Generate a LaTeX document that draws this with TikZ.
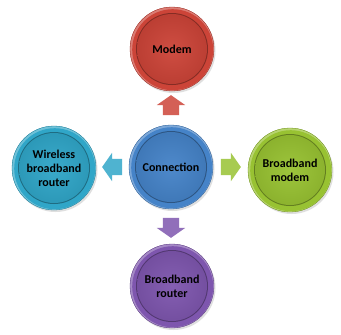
\documentclass[tikz,border=0pt]{standalone}
\usepackage{fontspec}
\setmainfont{Carlito}
\usetikzlibrary{shapes.arrows,shadows}
\definecolor{cred}{HTML}{CC4438}
\definecolor{cblue}{HTML}{4583C8}
\definecolor{caqua}{HTML}{30A6C8}
\definecolor{cgreen}{HTML}{98C232}
\definecolor{cpurple}{HTML}{7E56AE}
\tikzset{
  ball/.style={circle, minimum size=84pt, inner sep=0pt, draw=#1!75!black, line width=0.3pt,
    fill=#1, align=center, text=black,
    font=\fontsize{12}{14}\selectfont\bfseries,
    drop shadow={shadow xshift=1.5pt, shadow yshift=-2pt, opacity=0.25},
    path picture={
      \fill[#1!70!white] (path picture bounding box.center) circle (42pt);
      \fill[#1] ([xshift=0.7pt,yshift=-0.7pt]path picture bounding box.center) circle (40.5pt);
      \fill[#1!65!black] (path picture bounding box.center) circle (36pt);
      \shade[inner color=#1!95!white, outer color=#1!92!black] (path picture bounding box.center) circle (35pt);
    }},
  blockarrow/.style={single arrow, draw=none, fill=#1!85!white, minimum height=20pt,
    inner xsep=0pt, inner ysep=8pt, single arrow head extend=6pt, single arrow tip angle=110}
}
\begin{document}
\begin{tikzpicture}[x=1pt,y=-1pt]
\useasboundingbox[fill=white] (0,0) rectangle (341,335);
\node[ball=cblue] (c) at (171,167) {Connection};
\node[ball=cred] (t) at (172,49) {Modem};
\node[ball=caqua] (l) at (54,168) {Wireless\\broadband\\router};
\node[ball=cgreen] (r) at (290,170) {Broadband\\modem};
\node[ball=cpurple] (b) at (172,286) {Broadband\\router};
\node[blockarrow=cred, rotate=90] (au) at (171,108) {};
\node[blockarrow=caqua, rotate=180] (al) at (115,167) {};
\node[blockarrow=cgreen] (ar) at (228,167) {};
\node[blockarrow=cpurple, rotate=270] (ad) at (171,225) {};
\end{tikzpicture}
\end{document}
